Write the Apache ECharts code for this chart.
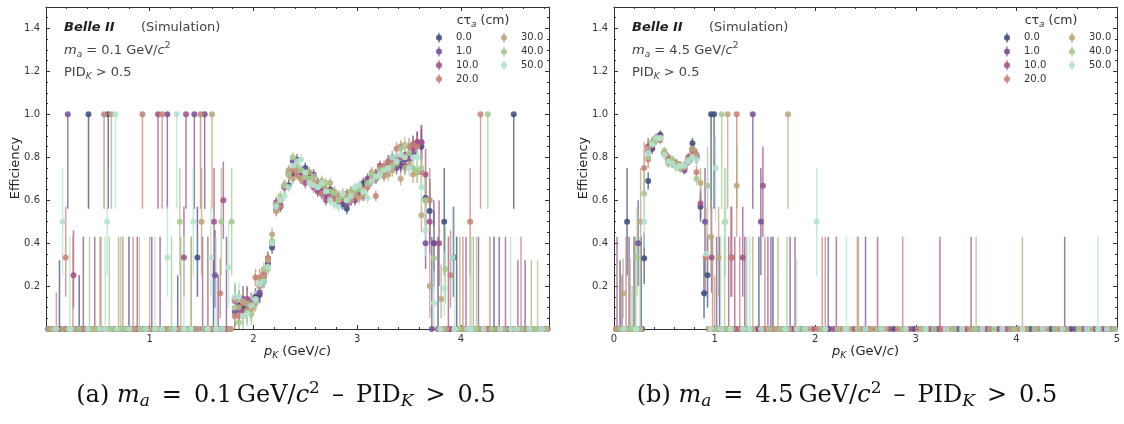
<!DOCTYPE html>
<html><head><meta charset="utf-8">
<script src="https://cdn.jsdelivr.net/npm/echarts@6/dist/echarts.min.js"></script>
<style>html,body{margin:0;padding:0;background:#fff}#c{width:1124px;height:424px}</style>
</head><body><div id="c"></div><script>
// ---------------- DATA ----------------
const ctLabels = ['0.0','1.0','10.0','20.0','30.0','40.0','50.0'];
const colors = ['#3f4f80','#7a519a','#a5528b','#c98275','#bea67c','#a6c992','#b3e3cf'];
const massLabels = ['0.1','4.5'];
const panelTags = ['(a)','(b)'];
const xTicksL = [1,2,3,4];
const xTicksR = [0,1,2,3,4,5];

// ---- panel (a): m_a = 0.1 GeV/c^2 ----
const binsL = [1.82,1.86,1.90,1.94,1.98, 2.02,2.06,2.10,2.14,2.18, 2.22,2.26,2.30,2.34,2.38, 2.42,2.46,2.50,2.54,2.58,
  2.62,2.66,2.70,2.74,2.78, 2.82,2.86,2.90,2.94,2.98, 3.02,3.06,3.10,3.14,3.18, 3.22,3.26,3.30,3.34,3.38,
  3.42,3.46,3.50,3.54,3.58, 3.62,3.66,3.70,3.74,3.78];
const errL = [0.07,0.07,0.06,0.06,0.05, 0.04,0.04,0.03,0.03,0.03, 0.025,0.025,0.025,0.025,0.025, 0.025,0.025,0.025,0.025,0.025,
  0.025,0.025,0.025,0.025,0.025, 0.025,0.025,0.025,0.025,0.025, 0.025,0.025,0.025,0.025,0.025, 0.025,0.025,0.03,0.03,0.03,
  0.03,0.035,0.04,0.04,0.05, 0.08,0.12,0.15,0.15,0.15];
const effL0 = [0.14,0.11,0.10,0.09,0.11, 0.15,0.16,0.22,0.30,0.38, 0.58,0.57,0.66,0.67,0.72, 0.74,0.73,0.75,0.72,0.71,
  0.68,0.66,0.64,0.65,0.62, 0.60,0.58,0.56,0.60,0.62, 0.64,0.68,0.67,0.70,0.70, 0.73,0.72,0.76,0.80,0.78,
  0.76,0.79,0.81,0.86,0.87, 0.85,0.61,0.55,0.40,null];
const effL1 = [0.08,0.09,0.14,0.13,0.10, 0.14,0.17,0.24,0.31,0.40, 0.56,0.58,0.66,0.73,0.78, 0.79,0.73,0.72,0.70,0.72,
  0.65,0.63,0.62,0.62,0.61, 0.60,0.62,0.58,0.61,0.60, 0.63,0.66,0.70,0.69,0.72, 0.74,0.74,0.78,0.76,0.75,
  0.77,0.76,0.79,0.82,0.86, 0.87,0.40,null,null,null];
const effL2 = [0.13,0.10,0.08,0.14,0.12, 0.13,0.20,0.25,0.33,0.40, 0.59,0.60,0.67,0.72,0.74, 0.73,0.70,0.68,0.70,0.66,
  0.64,0.65,0.60,0.61,0.63, 0.59,0.60,0.62,0.60,0.61, 0.63,0.62,0.69,0.71,0.72, 0.76,0.73,0.75,0.77,0.78,
  0.80,0.81,0.80,0.84,0.87, 0.87,0.72,0.50,null,null];
const effL3 = [0.06,0.06,0.12,0.09,0.10, 0.24,0.24,0.26,0.33,0.40, 0.55,0.57,0.66,0.72,0.74, 0.72,0.70,0.71,0.69,0.67,
  0.66,0.63,0.65,0.61,0.60, 0.62,0.61,0.63,0.64,0.62, 0.66,0.62,0.66,0.70,0.62, 0.75,0.76,0.78,0.77,0.84,
  0.85,0.80,0.85,0.86,0.85, 0.73,0.60,0.60,null,null];
const effL4 = [0.135,0.10,0.13,0.12,0.09, 0.12,0.20,0.24,0.32,0.44, 0.55,0.60,0.67,0.74,0.70, 0.74,0.70,0.72,0.73,0.70,
  0.68,0.69,0.65,0.68,0.64, 0.61,0.63,0.62,0.60,0.63, 0.61,0.65,0.67,0.73,0.70, 0.73,0.71,0.72,0.74,0.77,
  0.70,0.75,0.77,0.72,0.73, 0.53,null,0.20,null,null];
const effL5 = [0.10,0.03,0.06,0.08,0.07, 0.13,0.22,0.28,0.28,0.41, 0.58,0.62,0.67,0.72,0.80, 0.76,0.74,0.71,0.70,0.71,
  0.66,0.67,0.68,0.64,0.63, 0.60,0.62,0.60,0.64,0.65, 0.65,0.63,0.68,0.72,0.71, 0.74,0.74,0.75,0.76,0.78,
  0.84,0.86,0.82,0.75,0.74, 0.75,0.60,null,0.33,null];
const effL6 = [0.15,0.15,0.06,0.07,0.11, 0.14,0.21,0.22,0.29,0.40, 0.57,0.60,0.62,0.66,0.76, 0.78,0.79,0.73,0.68,0.67,
  0.66,0.68,0.64,0.60,0.58, 0.57,0.63,0.60,0.62,0.66, 0.67,0.64,0.61,0.69,0.71, 0.72,0.74,0.75,0.80,0.78,
  0.81,0.80,0.75,0.80,0.80, 0.66,0.46,null,0.12,null];
// isolated points [x, eff, errLow, errHigh]
const sparseL0 = [[0.41,1,0.56,1],[0.60,1,0.56,1],[1.46,0.333,0.15,0.57],[3.84,0.5,0.25,0.75],[3.93,0.333,0.15,0.57],[4.51,1,0.56,1]];
const sparseL1 = [[0.21,1,0.56,1],[1.17,1,0.56,1],[1.43,1,0.56,1],[1.53,1,0.56,1],[1.63,0.25,0.1,0.46],[3.74,0.40,0.2,0.6]];
const sparseL2 = [[0.265,0.25,0.1,0.46],[1.08,1,0.56,1],[1.35,1,0.56,1],[1.33,0.333,0.15,0.57],[1.62,0.5,0.25,0.75],[1.71,0.6,0.42,0.78],[3.79,0.40,0.2,0.6]];
const sparseL3 = [[0.19,0.333,0.15,0.57],[0.56,1,0.56,1],[0.93,1,0.56,1],[1.12,1,0.56,1],[1.49,1,0.56,1],[1.68,0.167,0.05,0.33],[3.90,0.25,0.1,0.46],[4.09,0.5,0.25,0.75],[4.19,1,0.56,1]];
const sparseL4 = [[0.63,1,0.56,1],[1.60,1,0.56,1],[1.50,0.5,0.25,0.75],[3.81,0.14,0.05,0.3]];
const sparseL5 = [[1.29,0.5,0.25,0.75],[1.69,0.5,0.25,0.75],[1.79,0.5,0.25,0.75],[3.85,0.28,0.12,0.48],[4.26,1,0.56,1]];
const sparseL6 = [[0.16,0.5,0.25,0.75],[0.59,0.5,0.25,0.75],[0.67,1,0.56,1],[1.17,0.333,0.15,0.57],[1.26,1,0.56,1],[1.42,0.5,0.25,0.75],[1.59,0.333,0.15,0.57],[1.76,0.286,0.1,0.5],[3.84,0.19,0.06,0.36],[3.92,0.333,0.15,0.57]];
// zero-efficiency points with an upper error bar [x, errHigh]
const zeroBarL0 = [[0.13,0.32],[0.32,0.25],[0.80,0.43],[1.27,0.25],[1.615,0.32],[3.78,0.43],[3.96,0.43],[4.32,0.43]];
const zeroBarL1 = [[0.36,0.43],[1.02,0.43],[1.10,0.43],[1.66,0.25],[1.74,0.43],[3.72,0.43],[4.17,0.43],[4.37,0.43],[4.62,0.32]];
const zeroBarL2 = [[0.47,0.43],[0.88,0.43],[1.51,0.43],[1.56,0.43],[3.88,0.43],[4.05,0.43],[4.43,0.43],[4.55,0.32]];
const zeroBarL3 = [[0.10,0.17],[0.26,0.43],[0.53,0.43],[0.74,0.43],[0.84,0.43],[1.40,0.43],[4.02,0.43],[4.28,0.43],[4.58,0.43]];
const zeroBarL4 = [[0.52,0.43],[0.70,0.43],[1.00,0.43],[1.30,0.43],[1.56,0.43],[3.99,0.43],[4.12,0.43],[4.68,0.32]];
const zeroBarL5 = [[0.42,0.43],[0.61,0.43],[0.72,0.43],[0.90,0.43],[1.21,0.43],[1.40,0.43],[4.09,0.43],[4.15,0.43],[4.74,0.32]];
const zeroBarL6 = [[0.23,0.43],[0.57,0.43],[1.05,0.43],[1.33,0.43],[1.64,0.43],[3.94,0.43],[4.10,0.43],[4.48,0.43]];
// zero-efficiency points without visible bar [x]
const zeroL0 = [0.02,0.10,0.22,0.34,0.50,0.66,0.78,0.94,1.06,1.22,1.38,1.54,1.70,3.82,3.98,4.10,4.26,4.42,4.58,4.70,4.82];
const zeroL1 = [0.06,0.18,0.30,0.42,0.54,0.70,0.86,0.98,1.14,1.26,1.46,1.58,1.74,3.86,4.02,4.18,4.30,4.46,4.62,4.78];
const zeroL2 = [0.04,0.12,0.26,0.38,0.58,0.74,0.90,1.02,1.18,1.30,1.42,1.66,1.78,3.90,4.06,4.22,4.34,4.50,4.66,4.82];
const zeroL3 = [0.08,0.20,0.36,0.48,0.62,0.82,0.98,1.10,1.26,1.34,1.58,1.74,3.78,3.94,4.14,4.26,4.38,4.54,4.70,4.84];
const zeroL4 = [0.02,0.16,0.28,0.44,0.56,0.72,0.84,1.04,1.16,1.30,1.46,1.62,1.78,3.86,4.02,4.18,4.34,4.50,4.62,4.74];
const zeroL5 = [0.06,0.22,0.32,0.48,0.64,0.76,0.92,1.08,1.20,1.36,1.52,1.66,3.82,3.98,4.10,4.30,4.42,4.58,4.70,4.82];
const zeroL6 = [0.10,0.24,0.40,0.52,0.68,0.80,0.96,1.12,1.24,1.40,1.56,1.70,3.80,3.94,4.06,4.22,4.38,4.54,4.66,4.78];

// ---- panel (b): m_a = 4.5 GeV/c^2 ----
const binsR = [0.30,0.34,0.38,0.42,0.46,0.50,0.54,0.58,0.62,0.66,0.70,0.74,0.78,0.82,0.86];
const errR = [0.12,0.04,0.025,0.02,0.02,0.02,0.02,0.02,0.02,0.02,0.02,0.02,0.025,0.03,0.07];
const effR0 = [0.33,0.69,0.84,0.88,0.905,0.82,0.79,0.78,0.77,0.76,0.75,0.78,0.865,0.81,0.57];
const effR1 = [null,0.83,0.85,0.89,0.90,0.82,0.78,0.78,0.77,0.76,0.74,0.79,0.83,0.80,null];
const effR2 = [null,0.85,0.86,0.89,0.89,0.82,0.78,0.77,0.76,0.75,0.76,0.80,0.84,0.80,0.585];
const effR3 = [0.75,0.79,0.87,0.89,0.88,0.82,0.80,0.78,0.765,0.76,0.75,0.78,0.82,0.73,null];
const effR4 = [null,0.84,0.86,0.88,0.89,0.82,0.78,0.78,0.77,0.76,0.76,0.79,0.84,0.81,0.68];
const effR5 = [0.63,0.80,0.87,0.88,0.89,0.83,0.77,0.79,0.76,0.75,0.76,0.79,0.80,0.70,null];
const effR6 = [0.50,0.82,0.86,0.89,0.89,0.81,0.78,0.77,0.75,0.76,0.76,0.78,0.80,0.79,null];
const sparseR0 = [[0.13,0.5,0.25,0.75],[0.895,0.167,0.05,0.33],[0.93,0.25,0.1,0.44],[0.965,1,0.56,1],[0.995,1,0.56,1]];
const sparseR1 = [[0.24,0.4,0.2,0.6],[0.905,0.5,0.25,0.75],[1.38,1,0.56,1],[1.46,0.5,0.25,0.75]];
const sparseR2 = [[0.97,0.333,0.17,0.57],[1.17,0.333,0.15,0.57],[1.28,0.333,0.15,0.57],[1.48,0.667,0.43,0.85]];
const sparseR3 = [[0.91,0.333,0.15,0.57],[1.16,0.333,0.15,0.57],[1.22,1,0.56,1]];
const sparseR4 = [[0.09,0.167,0.05,0.33],[0.265,0.5,0.25,0.75],[0.965,0.43,0.25,0.6],[1.04,0.333,0.15,0.57],[1.13,1,0.56,1],[1.22,0.667,0.43,0.85],[1.73,1,0.56,1]];
const sparseR5 = [[0.23,0.333,0.15,0.57],[0.93,0.667,0.43,0.85],[1.07,1,0.56,1],[1.10,0.5,0.25,0.75]];
const sparseR6 = [[0.92,0.35,0.2,0.55],[1.01,0.75,0.5,0.9],[1.11,0.5,0.25,0.75],[2.015,0.5,0.25,0.75]];
const zeroBarR0 = [[0.06,0.32],[0.20,0.43],[0.27,0.43],[1.05,0.43],[1.44,0.43],[1.58,0.43]];
const zeroBarR1 = [[0.15,0.43],[1.02,0.43],[1.30,0.43],[1.56,0.43],[1.75,0.43],[2.13,0.43],[2.50,0.43],[4.48,0.43]];
const zeroBarR2 = [[0.03,0.43],[0.08,0.25],[1.14,0.43],[1.20,0.43],[1.53,0.43],[1.80,0.43],[2.21,0.43],[2.62,0.43],[3.24,0.43],[3.55,0.43]];
const zeroBarR3 = [[0.12,0.43],[0.98,0.43],[1.25,0.43],[1.50,0.43],[2.07,0.43],[2.10,0.43],[2.42,0.43],[2.87,0.43]];
const zeroBarR4 = [[0.16,0.33],[0.21,0.43],[1.00,0.25],[1.38,0.43],[1.63,0.43],[2.43,0.43],[4.06,0.43]];
const zeroBarR5 = [[0.18,0.2],[0.26,0.43],[1.10,0.43],[1.32,0.43],[1.72,0.43],[3.60,0.43]];
const zeroBarR6 = [[0.22,0.43],[1.06,0.43],[1.35,0.43],[1.815,0.33],[2.31,0.43],[4.81,0.43]];
const zeroR0 = [0.02,0.10,0.24,0.98,1.12,1.26,1.46,1.66,1.86,2.06,2.22,2.42,2.62,2.78,2.98,3.18,3.38,3.58,3.74,3.94,4.14,4.34,4.54,4.70,4.90];
const zeroR1 = [0.06,0.18,1.02,1.18,1.34,1.54,1.70,1.90,2.14,2.30,2.50,2.66,2.86,3.06,3.22,3.42,3.62,3.82,3.98,4.18,4.38,4.58,4.78,4.94];
const zeroR2 = [0.04,0.14,0.28,1.06,1.22,1.42,1.58,1.78,1.98,2.18,2.38,2.54,2.74,2.94,3.14,3.30,3.50,3.70,3.90,4.10,4.26,4.46,4.66,4.86,4.98];
const zeroR3 = [0.08,0.20,0.94,1.10,1.30,1.50,1.62,1.82,2.02,2.26,2.46,2.58,2.82,3.02,3.26,3.46,3.66,3.86,4.02,4.22,4.42,4.62,4.82];
const zeroR4 = [0.02,0.12,0.26,0.98,1.18,1.38,1.58,1.74,1.94,2.10,2.34,2.54,2.70,2.90,3.10,3.34,3.54,3.74,3.94,4.10,4.30,4.50,4.74,4.94];
const zeroR5 = [0.06,0.16,1.02,1.14,1.34,1.54,1.66,1.86,2.06,2.22,2.42,2.62,2.86,3.06,3.18,3.38,3.58,3.78,3.98,4.18,4.38,4.62,4.82,4.98];
const zeroR6 = [0.10,0.22,0.96,1.16,1.28,1.46,1.70,1.90,2.10,2.30,2.50,2.66,2.90,3.10,3.30,3.46,3.66,3.86,4.06,4.26,4.46,4.70,4.90];

// ---------------- BUILD ----------------
const FONT = 'DejaVu Sans';
const panels = [
  {eff:[effL0,effL1,effL2,effL3,effL4,effL5,effL6], sparse:[sparseL0,sparseL1,sparseL2,sparseL3,sparseL4,sparseL5,sparseL6],
   zbar:[zeroBarL0,zeroBarL1,zeroBarL2,zeroBarL3,zeroBarL4,zeroBarL5,zeroBarL6], zero:[zeroL0,zeroL1,zeroL2,zeroL3,zeroL4,zeroL5,zeroL6],
   bins:binsL, err:errL, xmax:4.85, ticks:xTicksL, left:46, x0:0},
  {eff:[effR0,effR1,effR2,effR3,effR4,effR5,effR6], sparse:[sparseR0,sparseR1,sparseR2,sparseR3,sparseR4,sparseR5,sparseR6],
   zbar:[zeroBarR0,zeroBarR1,zeroBarR2,zeroBarR3,zeroBarR4,zeroBarR5,zeroBarR6], zero:[zeroR0,zeroR1,zeroR2,zeroR3,zeroR4,zeroR5,zeroR6],
   bins:binsR, err:errR, xmax:5, ticks:xTicksR, left:614, x0:568}
];
const GW = 503, GT = 7, GH = 322;

function build(p, s){
  const pts = [], bars = [];
  p.bins.forEach((x,i)=>{const y=p.eff[s][i]; if(y==null) return; pts.push([x,y]); bars.push([x,Math.max(0,y-p.err[i]),Math.min(1,y+p.err[i])]);});
  p.sparse[s].forEach(d=>{pts.push([d[0],d[1]]); bars.push([d[0],d[2],d[3]]);});
  p.zbar[s].forEach(d=>{pts.push([d[0],0]); bars.push([d[0],0,d[1]]);});
  p.zero[s].forEach(x=>pts.push([x,0]));
  return {pts,bars};
}

const grids=[], xAxes=[], yAxes=[], series=[];
const axLine = {show:true,onZero:false,lineStyle:{color:'#333',width:1}};
panels.forEach((p,pi)=>{
  grids.push({left:p.left, top:GT, width:GW, height:GH, containLabel:false});
  const ticks = p.ticks;
  ['bottom','top'].forEach((pos,k)=>{
    xAxes.push({type:'value', gridIndex:pi, position:pos, min:0, max:p.xmax, interval:1,
      axisLine:axLine, axisTick:{show:true,inside:true,length:4,lineStyle:{color:'#333'}},
      minorTick:{show:true,splitNumber:5,length:2,lineStyle:{color:'#333'}},
      splitLine:{show:false}, minorSplitLine:{show:false},
      axisLabel:{show:k===0, margin:5, fontSize:10, color:'#333', fontFamily:FONT, showMinLabel:true, showMaxLabel:true,
        formatter:v=>{const r=Math.round(v); return (Math.abs(v-r)<1e-6 && ticks.indexOf(r)>=0)?String(r):'';}}});
  });
  ['left','right'].forEach((pos,k)=>{
    yAxes.push({type:'value', gridIndex:pi, position:pos, min:0, max:1.5, interval:0.2,
      axisLine:axLine, axisTick:{show:true,inside:true,length:4,lineStyle:{color:'#333'}},
      minorTick:{show:true,splitNumber:4,length:2,lineStyle:{color:'#333'}},
      splitLine:{show:false}, minorSplitLine:{show:false},
      axisLabel:{show:k===0, margin:6, fontSize:10, color:'#333', fontFamily:FONT,
        formatter:v=>{const r=Math.round(v*5); return (v>0.01 && Math.abs(v*5-r)<1e-6)?v.toFixed(1):'';}}});
  });
});

for(let s=0;s<7;s++){
  panels.forEach((p,pi)=>{
    const d = build(p,s);
    const col = colors[s];
    series.push({type:'custom', xAxisIndex:pi*2, yAxisIndex:pi*2, data:d.bars, encode:{x:0,y:[1,2]}, silent:true,
      renderItem:(params,api)=>{const a=api.coord([api.value(0),api.value(1)]), b=api.coord([api.value(0),api.value(2)]);
        return {type:'line', shape:{x1:a[0],y1:a[1],x2:b[0],y2:b[1]}, style:{stroke:col,lineWidth:1.5,opacity:0.75}};}});
    series.push({type:'scatter', xAxisIndex:pi*2, yAxisIndex:pi*2, data:d.pts, symbol:'circle', symbolSize:6, clip:true, silent:true,
      itemStyle:{color:col, opacity:0.88}});
  });
}

// ---------------- TEXT ----------------
const graphics = [];
const txt = (x,y,text,style,extra)=>Object.assign({type:'text', x, y, silent:true, style:Object.assign({text, fontFamily:FONT, fontSize:13, fill:'#444', align:'left', verticalAlign:'middle'}, style)}, extra||{});
const subRich = {
  n:{fontFamily:FONT,fontSize:13,fill:'#444'},
  i:{fontFamily:FONT,fontSize:13,fontStyle:'italic',fill:'#444'},
  is:{fontFamily:FONT,fontSize:9,fontStyle:'italic',fill:'#444',padding:[8,0,0,0]},
  sp:{fontFamily:FONT,fontSize:9,fill:'#444',padding:[0,0,10,0]}
};
panels.forEach((p,pi)=>{
  const o = p.x0;
  graphics.push(txt(16+o, GT+GH/2, 'Efficiency', {align:'center', fill:'#222'}, {rotation:Math.PI/2}));
  graphics.push(txt(p.left+GW/2, 352, '{i|p}{is|K}{n| (GeV/}{i|c}{n|)}', {align:'center', rich:Object.assign({}, subRich, {n:{fontFamily:FONT,fontSize:13,fill:'#222'}, i:{fontFamily:FONT,fontSize:13,fontStyle:'italic',fill:'#222'}, is:{fontFamily:FONT,fontSize:9,fontStyle:'italic',fill:'#222',padding:[8,0,0,0]}})}));
  graphics.push(txt(64+o, 28, 'Belle II', {fontWeight:'bold', fontStyle:'italic', fill:'#222'}));
  graphics.push(txt(141+o, 28, '(Simulation)', {}));
  graphics.push(txt(64+o, 51, '{i|m}{is|a}{n| = '+massLabels[pi]+' GeV/}{i|c}{sp|2}', {rich:subRich}));
  graphics.push(txt(64+o, 73, '{n|PID}{is|K}{n| > 0.5}', {rich:subRich}));
  // legend
  graphics.push(txt(483+o, 21, '{n|c\u03C4}{is|a}{n| (cm)}', {align:'center', rich:Object.assign({}, subRich, {n:{fontFamily:FONT,fontSize:12.5,fill:'#333'}, is:{fontFamily:FONT,fontSize:9,fontStyle:'italic',fill:'#333',padding:[8,0,0,0]}})}));
  for(let i=0;i<7;i++){
    const col = i<4?0:1, row = i<4?i:i-4;
    const mx = 439+o+col*65, my = 37.7+row*13.8;
    graphics.push({type:'line', silent:true, shape:{x1:mx,y1:my-5,x2:mx,y2:my+5}, style:{stroke:colors[i],lineWidth:1.4,opacity:0.75}});
    graphics.push({type:'circle', silent:true, shape:{cx:mx,cy:my,r:3}, style:{fill:colors[i],opacity:0.9}});
    graphics.push(txt(mx+17, my, ctLabels[i], {fontSize:10, fill:'#333'}));
  }
  // caption
  const capRich = {
    r:{fontFamily:'DejaVu Serif',fontSize:24,fill:'#111'},
    i:{fontFamily:'DejaVu Serif',fontSize:24,fontStyle:'italic',fill:'#111'},
    is:{fontFamily:'DejaVu Serif',fontSize:17,fontStyle:'italic',fill:'#111',padding:[12,0,0,0]},
    sp:{fontFamily:'DejaVu Serif',fontSize:17,fill:'#111',padding:[0,0,14,0]}
  };
  const sp = '\u2002';
  graphics.push(txt(pi===0?286:847, 396, '{r|'+panelTags[pi]+' }{i|m}{is|a}{r|'+sp+'='+sp+massLabels[pi]+'\u2009GeV/}{i|c}{sp|2}{r|'+sp+'\u2013'+sp+'PID}{is|K}{r|'+sp+'>'+sp+'0.5}', {align:'center', rich:capRich}));
});

const chart = echarts.init(document.getElementById('c'), null, {renderer:'canvas'});
chart.setOption({animation:false, backgroundColor:'#fff', grid:grids, xAxis:xAxes, yAxis:yAxes, series, graphic:graphics});
</script></body></html>
